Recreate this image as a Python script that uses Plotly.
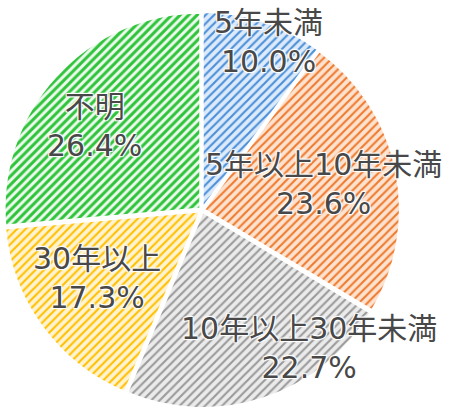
import plotly.graph_objects as go

# 経験年数の内訳
labels = ['5年未満', '5年以上10年未満', '10年以上30年未満', '30年以上', '不明']
values = [10.0, 23.6, 22.7, 17.3, 26.4]

fg_colors = ['#4a8fd8', '#ee7a2e', '#9a9a9a', '#ffc000', '#2ec43a']
bg_colors = ['#dceafa', '#fde2cf', '#ebebeb', '#fff3d0', '#eef9ee']
solidity = [0.35, 0.35, 0.35, 0.35, 0.5]

# label anchor points (paper coords)
label_x = [0.5956, 0.7178, 0.6867, 0.2156, 0.2111]
label_y = [0.898, 0.5534, 0.1553, 0.3252, 0.6942]

fig = go.Figure()
fig.add_trace(go.Pie(
    labels=labels,
    values=values,
    sort=False,
    direction='clockwise',
    rotation=0,
    pull=0.012,
    textinfo='none',
    hoverinfo='label+percent',
    showlegend=False,
    marker=dict(
        colors=bg_colors,
        line=dict(color='#ffffff', width=2),
        pattern=dict(shape='/', fgcolor=fg_colors, bgcolor=bg_colors,
                     size=6, solidity=solidity),
    ),
    domain=dict(x=[0.00889, 0.8889], y=[0.0097, 0.9709]),
))

for lab, v, x, y in zip(labels, values, label_x, label_y):
    fig.add_annotation(
        x=x, y=y, xref='paper', yref='paper',
        text=f'{lab}<br>{v:.1f}%',
        showarrow=False, xanchor='center', yanchor='middle',
        font=dict(family='DejaVu Sans, Noto Sans CJK JP', size=30, color='#484848',
                  shadow='1px 1px 1px #fff, -1px -1px 1px #fff, 1px -1px 1px #fff, -1px 1px 1px #fff'),
    )

fig.update_layout(
    width=450, height=412,
    margin=dict(l=0, r=0, t=0, b=0),
    paper_bgcolor='#ffffff',
    plot_bgcolor='#ffffff',
)

fig.write_html('out.html', config={'displayModeBar': False},
               post_script="document.body.style.margin='0';")
